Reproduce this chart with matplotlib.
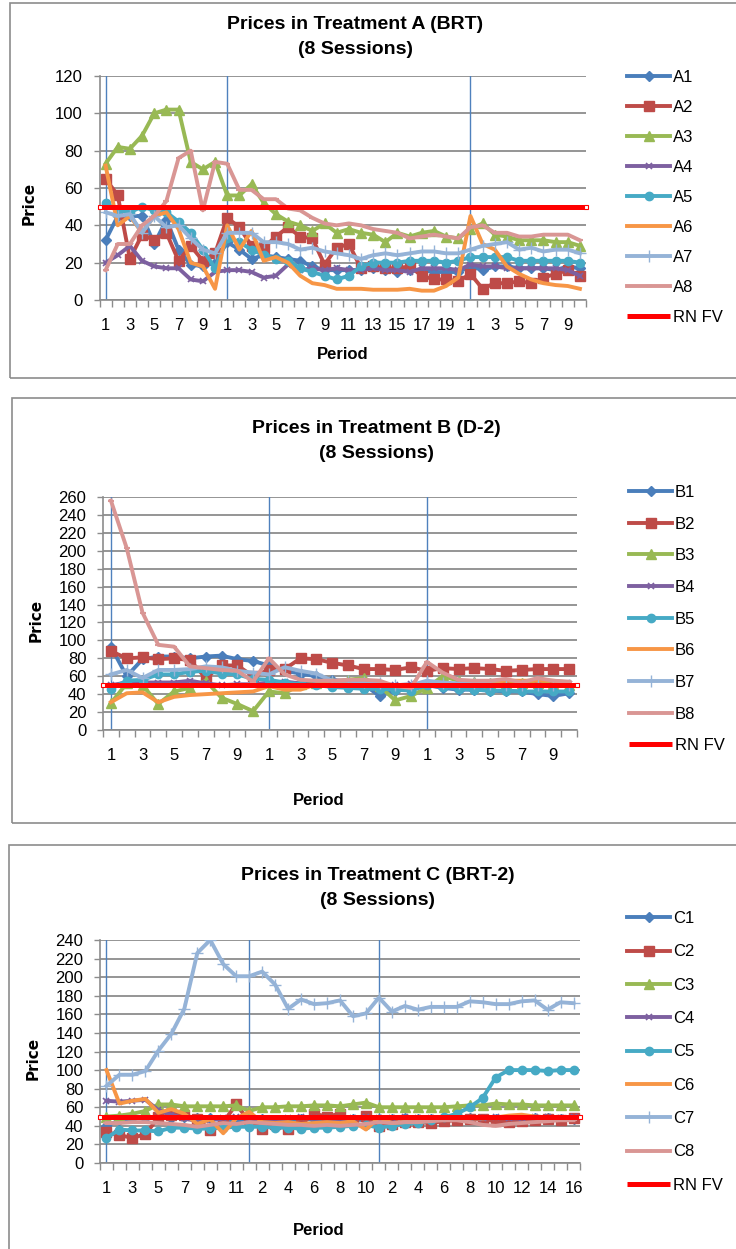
"""Prices per period in treatments A, B and C (8 sessions each)"""
import numpy as np
import matplotlib
matplotlib.use("Agg")
from matplotlib import pyplot as plt
from matplotlib.patches import Rectangle

# ---- data ---------------------------------------------------------------
sessions_a = [10, 20, 10]
sessions_b = [10, 10, 10]
sessions_c = [11, 10, 16]
rn_fv = 50

A1 = [32, 45, 45, 45, 30, 43, 27, 19, 18, 20,
      31, 27, 22, 24, 23, 22, 21, 18, 16, 16,
      16, 16, 17, 16, 15, 16, 16, 15, 15, 15,
      18, 16, 18, 18, 17, 17, 17, 16, 18, 17]
A2 = [65, 56, 22, 35, 32, 36, 21, 29, 21, 25,
      44, 39, 29, 28, 34, 39, 34, 33, 19, 28,
      30, 17, 18, 17, 17, 18, 13, 11, 11, 10,
      14, 6, 9, 9, 10, 9, 12, 14, 16, 13]
A3 = [73, 82, 81, 88, 100, 102, 102, 74, 70, 74,
      56, 56, 62, 52, 46, 42, 40, 37, 41, 36,
      38, 36, 35, 31, 36, 34, 36, 37, 34, 33,
      38, 41, 35, 34, 32, 32, 32, 31, 31, 29]
A4 = [20, 24, 29, 21, 18, 17, 17, 11, 10, 15,
      16, 16, 15, 12, 13, 19, 16, 17, 16, 17,
      16, 16, 17, 16, 16, 15, 17, 17, 17, 16,
      19, 18, 18, 17, 17, 17, 17, 17, 16, 13]
A5 = [52, 48, 47, 50, 48, 47, 42, 36, 27, 17,
      33, 31, 27, 24, 22, 21, 17, 15, 13, 11,
      13, 18, 20, 20, 20, 21, 21, 21, 20, 21,
      23, 23, 23, 23, 21, 21, 21, 21, 21, 20]
A6 = [72, 40, 45, 36, 45, 47, 38, 20, 18, 6,
      40, 27, 37, 21, 23, 20, 13, 9, 8, 6,
      6, 6, 5.5, 5.5, 5.5, 6, 5, 5, 7.5, 12,
      45, 30, 27, 18, 14, 11, 9, 8, 7.5, 6]
A7 = [47, 45, 46, 36, 45, 39, 40, 33, 27, 25,
      36, 36, 36, 31, 31, 30, 27, 28, 26, 25,
      24, 22, 24, 25, 24, 25, 26, 26, 25, 25,
      27, 29, 30, 31, 27, 28, 26, 27, 27, 25]
A8 = [16, 30, 30, 40, 45, 53, 76, 80, 48, 74,
      73, 59, 59, 54, 54, 49, 48, 44, 41, 40,
      41, 40, 38, 37, 36, 33, 34, 35, 34, 33,
      39, 40, 36, 36, 34, 34, 35, 35, 35, 32]

B1 = [93, 60, 79, 82, 82, 80, 82, 83, 79, 77,
      72, 66, 63, 60, 56, 54, 51, 38, 44, 47,
      50, 47, 45, 45, 44, 43, 43, 40, 38, 41]
B2 = [88, 80, 81, 79, 80, 78, 58, 72, 72, 60,
      67, 68, 80, 79, 75, 72, 68, 68, 67, 70,
      66, 69, 68, 69, 68, 66, 67, 68, 68, 68]
B3 = [30, 52, 50, 29, 43, 47, 55, 36, 29, 21,
      43, 41, 51, 53, 54, 56, 58, 49, 33, 38,
      47, 60, 55, 54, 53, 52, 52, 52, 51, 50]
B4 = [50, 53, 53, 53, 53, 55, 52, 50, 51, 51,
      53, 54, 52, 50, 50, 50, 49, 50, 50, 51,
      51, 50, 50, 50, 49, 50, 50, 50, 50, 51]
B5 = [46, 55, 56, 62, 62, 65, 66, 63, 62, 57,
      56, 53, 51, 50, 48, 47, 46, 46, 45, 44,
      50, 48, 46, 45, 44, 44, 43, 43, 43, 43]
B6 = [31, 41, 42, 31, 37, 39, 40, 41, 42, 43,
      49, 45, 45, 51, 51, 52, 52, 51, 50, 49,
      49, 50, 51, 52, 54, 55, 55, 55, 55, 53]
B7 = [62, 67, 58, 67, 67, 68, 71, 70, 66, 64,
      62, 70, 66, 63, 55, 55, 54, 52, 50, 50,
      55, 53, 52, 52, 51, 50, 50, 50, 50, 50]
B8 = [256, 203, 131, 95, 93, 71, 69, 67, 66, 54,
      80, 62, 56, 55, 55, 56, 56, 55, 49, 47,
      76, 64, 56, 55, 55, 57, 53, 58, 55, 54]

C1 = [40, 46, 48, 48, 50, 48, 50, 48, 48, 46, 43,
      48, 47, 46, 46, 47, 47, 46, 45, 47, 46,
      47, 47, 48, 47, 47, 47, 48, 48, 47, 47, 47, 47, 48, 48, 47, 47]
C2 = [33, 30, 27, 31, 49, 52, 52, 47, 36, 44, 63,
      45, 37, 42, 37, 42, 53, 50, 53, 45, 51,
      40, 42, 44, 44, 43, 45, 46, 47, 47, 45, 44, 45, 46, 47, 46, 48]
C3 = [50, 51, 53, 56, 63, 63, 61, 61, 61, 61, 62,
      56, 60, 60, 61, 61, 62, 62, 61, 63, 65,
      60, 60, 60, 60, 60, 60, 61, 62, 62, 64, 63, 63, 62, 62, 62, 62]
C4 = [67, 66, 67, 68, 57, 52, 48, 45, 46, 48, 49,
      48, 47, 47, 48, 49, 48, 48, 47, 48, 49,
      48, 48, 49, 48, 48, 48, 49, 48, 48, 49, 48, 48, 49, 49, 48, 49]
C5 = [27, 36, 35, 35, 34, 38, 38, 37, 37, 38, 39,
      39, 39, 38, 38, 37, 38, 38, 39, 40, 41,
      38, 40, 42, 43, 46, 49, 53, 60, 70, 92, 100, 100, 100, 99, 100, 100]
C6 = [100, 64, 67, 69, 54, 58, 53, 42, 47, 32, 48,
      55, 44, 43, 44, 42, 43, 44, 43, 45, 36,
      49, 43, 44, 44, 46, 47, 48, 48, 48, 49, 51, 52, 50, 49, 49, 48]
C7 = [83, 95, 95, 99, 121, 139, 166, 226, 240, 214, 201,
      201, 206, 192, 166, 176, 171, 172, 175, 158, 161,
      178, 163, 169, 165, 168, 168, 168, 174, 173, 171, 171, 174, 175, 165, 173, 172]
C8 = [43, 43, 44, 44, 43, 42, 41, 39, 41, 43, 42,
      44, 43, 42, 41, 41, 40, 41, 40, 41, 42,
      44, 43, 44, 44, 45, 46, 46, 44, 41, 40, 42, 43, 44, 45, 46, 46]

# ---- styles ---------------------------------------------------------------
styles = [
    ("#4A7EBB", "D", 5, 1.0),
    ("#BE4B48", "s", 6.5, 1.0),
    ("#98B954", "^", 6.5, 1.0),
    ("#7D60A0", "x", 5, 1.2),
    ("#46AAC5", "o", 6, 1.0),
    ("#F79646", None, 0, 0),
    ("#95B3D7", "+", 9, 1.0),
    ("#D99694", "_", 5, 1.5),
]
grey = "#8c8c8c"
vblue = "#4F81BD"

plt.rcParams["font.family"] = ["Liberation Sans", "DejaVu Sans"]

fig = plt.figure(figsize=(7.36, 12.49), dpi=100)
W, H = 736, 1249


def fig_rect(x0, y0, x1, y1):
    """pixel box (top-left origin) -> figure fraction rect"""
    return [x0 / W, 1 - y1 / H, (x1 - x0) / W, (y1 - y0) / H]


def panel(rect, box, series, names, sessions, ymax, title, title_xy,
          ylab_xy, xlab_xy, leg_xy, leg_space):
    b = fig_rect(*box)
    fig.add_artist(Rectangle((b[0], b[1]), b[2], b[3], transform=fig.transFigure,
                             fill=False, ec=grey, lw=1.2))
    ax = fig.add_axes(fig_rect(*rect))
    n = sum(sessions)
    x = np.arange(n)
    starts = np.cumsum([0] + sessions[:-1])
    for s in starts:
        ax.axvline(s, color=vblue, lw=1.0, zorder=1.5)
    for vals, name, (col, mk, ms, mew) in zip(series, names, styles):
        ax.plot(x, vals, color=col, lw=2.8, marker=mk, markersize=ms,
                markeredgewidth=mew, label=name, zorder=2)
    ax.plot([-0.5, n - 0.5], [rn_fv, rn_fv], color="#FF0000", lw=3.6,
            label="RN FV", zorder=3, clip_on=False, solid_capstyle="butt")
    ax.plot([-0.5, n - 0.5], [rn_fv, rn_fv], ls="none", marker="s",
            markersize=3, markerfacecolor="white", markeredgecolor="#FF0000",
            markeredgewidth=0.8, zorder=3.5, clip_on=False)

    ax.set_xlim(-0.5, n - 0.5)
    ax.set_ylim(0, ymax)
    ax.set_yticks(np.arange(0, ymax + 1, 20))
    labels = [str(p) for k in sessions for p in range(1, k + 1)]
    ax.set_xticks(x[::2])
    ax.set_xticklabels(labels[::2])
    ax.set_xticks(np.arange(n + 1) - 0.5, minor=True)
    ax.tick_params(axis="x", which="major", length=0, pad=13, labelsize=12)
    ax.tick_params(axis="x", which="minor", length=5, color=grey, width=1)
    ax.tick_params(axis="y", length=4, color=grey, width=1, pad=8, labelsize=12)
    ax.yaxis.grid(True, color=grey, lw=1.3)
    ax.set_axisbelow(True)
    for side in ("top", "right"):
        ax.spines[side].set_visible(False)
    for side in ("left", "bottom"):
        ax.spines[side].set_color(grey)
        ax.spines[side].set_linewidth(1.2)

    ax.set_ylabel("Price", fontsize=11, fontweight="bold", family="DejaVu Sans")
    ax.yaxis.set_label_coords(*ylab_xy)
    ax.set_xlabel("Period", fontsize=12, fontweight="bold")
    ax.xaxis.set_label_coords(*xlab_xy)
    fig.text(title_xy[0] / W, 1 - title_xy[1] / H, title, ha="center",
             va="center", fontsize=14, fontweight="bold", linespacing=1.55)
    ax.legend(loc="upper left", bbox_to_anchor=(leg_xy[0] / W, 1 - leg_xy[1] / H),
              bbox_transform=fig.transFigure, frameon=False, borderpad=0,
              borderaxespad=0, handlelength=2.6, handletextpad=0.15,
              labelspacing=leg_space, fontsize=12)
    return ax


panel((99.5, 76, 586, 300), (10, 3, 760, 378),
      [A1, A2, A3, A4, A5, A6, A7, A8], [f"A{i}" for i in range(1, 9)],
      sessions_a, 120, "Prices in Treatment A (BRT)\n(8 Sessions)", (355, 37),
      (-0.129, 0.43), (0.5, -0.21), (627, 70), 0.9)

panel((103, 497, 577, 730), (12, 398, 760, 823),
      [B1, B2, B3, B4, B5, B6, B7, B8], [f"B{i}" for i in range(1, 9)],
      sessions_b, 260, "Prices in Treatment B (D-2)\n(8 Sessions)", (376, 441),
      (-0.126, 0.472), (0.456, -0.27), (629, 485), 1.0)

panel((100, 940, 580, 1163), (9, 845, 760, 1270),
      [C1, C2, C3, C4, C5, C6, C7, C8], [f"C{i}" for i in range(1, 9)],
      sessions_c, 240, "Prices in Treatment C (BRT-2)\n(8 Sessions)", (378, 888),
      (-0.123, 0.47), (0.456, -0.269), (627, 911), 1.1)

fig.savefig("out.png", dpi=100)
